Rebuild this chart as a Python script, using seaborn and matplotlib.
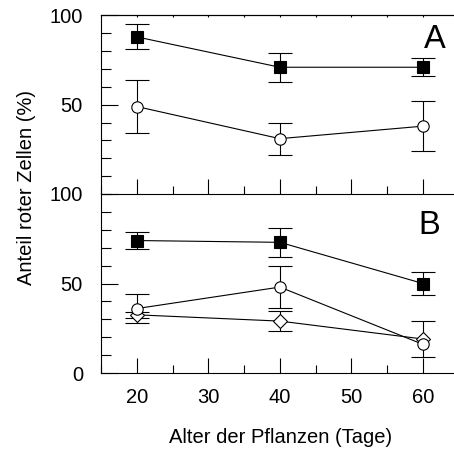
import numpy as np
import seaborn as sns
import matplotlib.pyplot as plt
from matplotlib.ticker import MultipleLocator, FixedLocator

sns.set_style("ticks")
plt.rcParams['font.family'] = ['Liberation Sans', 'DejaVu Sans']
plt.rcParams.update({'text.color': 'black', 'axes.edgecolor': 'black',
                     'xtick.color': 'black', 'ytick.color': 'black',
                     'axes.labelcolor': 'black'})

# ages of the plants (days)
days = [20, 40, 60]

# panel A
a_filled = [88, 71, 71]
a_filled_err = [7, 8, 5]
a_open = [49, 31, 38]
a_open_err = [15, 9, 14]

# panel B
b_filled = [74, 73, 50]
b_filled_err = [5, 8, 6.5]
b_open = [36, 48, 16]
b_open_err = [8, 11.5, np.nan]
b_diamond = [32.5, 29, 19]
b_diamond_err = [1.5, 5.5, 10]

fig = plt.figure(figsize=(4.54, 4.5), dpi=100)
ax_a = fig.add_axes([0.2225, 0.5689, 0.7775, 0.3967])
ax_b = fig.add_axes([0.2225, 0.1711, 0.7775, 0.3978])


def draw_series(ax, y, err, marker, face, ms):
    ax.errorbar(days, y, yerr=err, fmt='none', ecolor='black', elinewidth=0.8,
                capsize=8.5, capthick=0.8, zorder=2)
    sns.lineplot(x=days, y=y, ax=ax, color='black', linewidth=0.8, marker=marker,
                 markersize=ms, markerfacecolor=face, markeredgecolor='black',
                 markeredgewidth=0.8, zorder=3)


draw_series(ax_a, a_filled, a_filled_err, 's', 'black', 8.4)
draw_series(ax_a, a_open, a_open_err, 'o', 'white', 8.2)

draw_series(ax_b, b_filled, b_filled_err, 's', 'black', 8.4)
draw_series(ax_b, b_diamond, b_diamond_err, 'D', 'white', 7.4)
draw_series(ax_b, b_open, b_open_err, 'o', 'white', 8.2)

for ax in (ax_a, ax_b):
    ax.set_xlim(15, 64.34)
    ax.set_ylim(0, 100)
    ax.set_facecolor('none')
    ax.spines['right'].set_visible(False)
    for s in ax.spines.values():
        s.set_linewidth(0.8)
        s.set_color('black')
    ax.xaxis.set_major_locator(MultipleLocator(10))
    ax.xaxis.set_minor_locator(MultipleLocator(5))
    ax.yaxis.set_major_locator(MultipleLocator(50))
    ax.yaxis.set_minor_locator(MultipleLocator(10))
    ax.tick_params(axis='y', which='major', direction='in', length=12.2, width=0.8,
                   labelsize=14.5, pad=13)
    ax.tick_params(axis='y', which='minor', direction='in', length=7.2, width=0.8)
    ax.tick_params(axis='x', which='major', direction='in', length=10.8, width=0.8,
                   labelsize=14.5, pad=11)
    ax.tick_params(axis='x', which='minor', direction='in', length=5.8, width=0.8)
    ax.set_xlabel('')
    ax.set_ylabel('')

# upper panel: no x labels, no 0 label, tiny ticks on top spine
ax_a.tick_params(axis='x', labelbottom=False)
ax_a.yaxis.set_major_locator(FixedLocator([50, 100]))
sec = ax_a.secondary_xaxis('top')
sec.xaxis.set_major_locator(MultipleLocator(5))
sec.tick_params(direction='in', length=1.5, width=0.8, labeltop=False)
sec.spines['top'].set_linewidth(0.8)
sec.spines['top'].set_color('black')

ax_b.spines['top'].set_visible(False)

ax_a.text(61.7, 82, 'A', fontsize=23.5, ha='center', va='baseline')
ax_b.text(60.9, 77.6, 'B', fontsize=23.5, ha='center', va='baseline')

fig.text(0.619, 0.015, 'Alter der Pflanzen (Tage)', fontsize=14.5,
         ha='center', va='baseline')
fig.text(0.0705, 0.5844, 'Anteil roter Zellen (%)', fontsize=14.5, rotation=90,
         rotation_mode='anchor', ha='center', va='baseline')

fig.savefig('out.png', dpi=100)
